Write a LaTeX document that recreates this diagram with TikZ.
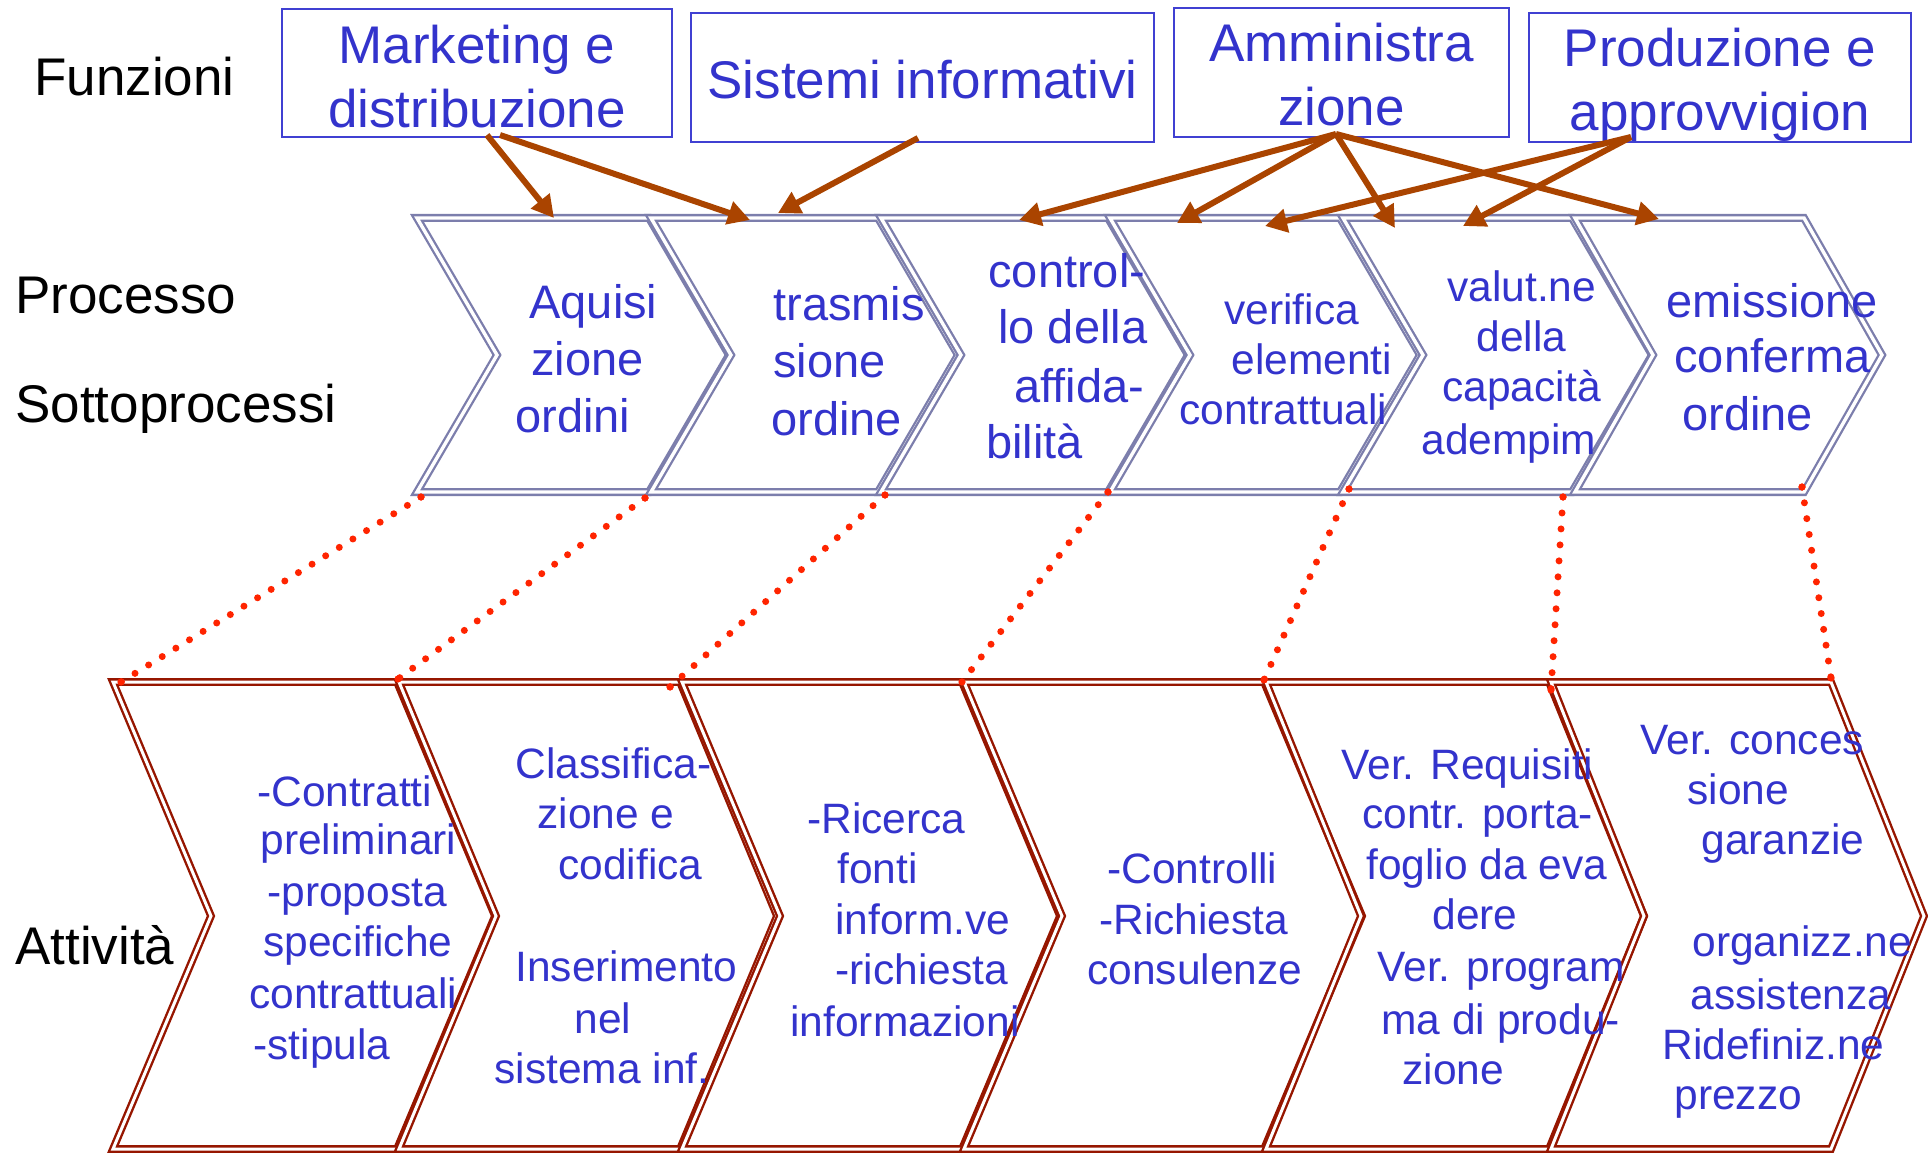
\documentclass[tikz,border=0pt]{standalone}
\usepackage{fontspec}
\setmainfont{Liberation Sans}
\usetikzlibrary{arrows.meta}
\definecolor{tblue}{RGB}{51,51,204}
\definecolor{bblue}{RGB}{64,64,210}
\definecolor{pgray}{RGB}{124,126,172}
\definecolor{ared}{RGB}{150,22,0}
\definecolor{abrown}{RGB}{170,68,0}
\definecolor{dred}{RGB}{255,36,0}
\begin{document}
\begin{tikzpicture}[x=0.5pt,y=-0.5pt,
  lbl/.style={inner sep=0pt, anchor=mid west, yshift=-3.5pt, font=\fontsize{26.5}{32}\selectfont, text=black},
  fbox/.style={draw=bblue, line width=0.8pt, inner sep=0pt},
  btxt/.style={inner sep=0pt, text=tblue, align=center, font=\fontsize{26.5}{32}\selectfont},
  pchev/.style={draw=pgray, line width=1.15pt, double=white, double distance=1.7pt, line join=miter},
  achev/.style={draw=ared, line width=1.2pt, double=white, double distance=1.5pt, line join=miter},
  ptxt/.style={inner sep=0pt, anchor=mid west, yshift=-3.5pt, text=tblue, font=\fontsize{23.5}{29}\selectfont},
  ptxs/.style={inner sep=0pt, anchor=mid west, yshift=-3.5pt, text=tblue, font=\fontsize{21.25}{25}\selectfont},
  atxt/.style={inner sep=0pt, anchor=mid west, yshift=-3.5pt, text=tblue, font=\fontsize{21.25}{25.5}\selectfont},
  farrow/.style={draw=abrown, line width=3pt, -{Triangle[length=11pt,width=11.5pt]}},
  dotline/.style={draw=dred, line width=3.5pt, line cap=round, dash pattern=on 0pt off 8pt},
  enddot/.style={fill=dred},
]
\useasboundingbox (0,0) rectangle (1928,1155);

% ---------- left labels
\node[lbl] (lfun) at (34,83) {Funzioni};
\node[lbl] (lpro) at (15,301) {Processo};
\node[lbl] (lsot) at (15,410) {Sottoprocessi};
\node[lbl] (latt) at (15,952) {Attività};

% ---------- function boxes
\node[fbox, minimum width=195pt, minimum height=64pt] (mk) at (477,73) {};
\node[fbox, minimum width=231.5pt, minimum height=64.5pt] (si) at (922.5,77.5) {};
\node[fbox, minimum width=167.5pt, minimum height=64.5pt] (am) at (1341.5,72.5) {};
\node[fbox, minimum width=191pt, minimum height=64.5pt] (pr) at (1720,77.5) {};
\node[btxt] (mkt) at (477,76.5) {Marketing e\\distribuzione};
\node[btxt] (sit) at (922.5,80) {Sistemi informativi};
\node[btxt] (amt) at (1341.5,75) {Amministra\\zione};
\node[btxt] (prt) at (1720,84.5) {Produzione e\\approvvigion};

% ---------- process chevrons
\foreach \a/\b/\e [count=\i] in {417/649/80, 651/878/80, 881/1108/80, 1110/1340/80, 1343/1572/80, 1575/1804/78}{
  \draw[pchev] (\a,218) -- (\b,218) -- (\b+\e,355) -- (\b,492) -- (\a,492) -- (\a+\e,355) -- cycle;
}

% ---------- activity chevrons
\foreach \a/\b/\e [count=\i] in {113/397/98, 399/680/97, 682/962/98, 964/1264/98, 1266/1549/95, 1551/1831/93}{
  \draw[achev] (\a,682) -- (\b,682) -- (\b+\e,916) -- (\b,1149) -- (\a,1149) -- (\a+\e,916) -- cycle;
}

% ---------- process texts
\node[ptxt] (p1a) at (529,306) {Aquisi};
\node[ptxt] (p1b) at (531,363) {zione};
\node[ptxt] (p1c) at (515,420) {ordini};

\node[ptxt] (p2a) at (773,308) {trasmis};
\node[ptxt] (p2b) at (773,365) {sione};
\node[ptxt] (p2c) at (771,423) {ordine};

\node[ptxt] (p3a) at (988,275) {control-};
\node[ptxt] (p3b) at (998,331) {lo della};
\node[ptxt] (p3c) at (1014,390) {affida-};
\node[ptxt] (p3d) at (986,446) {bilità};

\node[ptxs] (p4a) at (1224,312) {verifica};
\node[ptxs] (p4b) at (1231,362) {elementi};
\node[ptxs] (p4c) at (1179,412) {contrattuali};

\node[ptxs] (p5a) at (1447,289) {valut.ne};
\node[ptxs] (p5b) at (1476,339) {della};
\node[ptxs] (p5c) at (1442,389) {capacità};
\node[ptxs] (p5d) at (1421,442) {adempim};

\node[ptxt] (p6a) at (1666,305) {emissione};
\node[ptxt] (p6b) at (1674,360) {conferma};
\node[ptxt] (p6c) at (1682,418) {ordine};

% ---------- activity texts
\node[atxt] (a1a) at (257,794) {-Contratti};
\node[atxt] (a1b) at (260,842) {preliminari};
\node[atxt] (a1c) at (267,894) {-proposta};
\node[atxt] (a1d) at (263,944) {specifiche};
\node[atxt] (a1e) at (249,996) {contrattuali};
\node[atxt] (a1f) at (253,1047) {-stipula};

\node[atxt] (a2a) at (515,766) {Classifica-};
\node[atxt] (a2b) at (537,816) {zione e};
\node[atxt] (a2c) at (558,867) {codifica};
\node[atxt] (a2d) at (515,969) {Inserimento};
\node[atxt] (a2e) at (574,1021) {nel};
\node[atxt] (a2f) at (494,1071) {sistema inf.};

\node[atxt] (a3a) at (807,821) {-Ricerca};
\node[atxt] (a3b) at (837,871) {fonti};
\node[atxt] (a3c) at (835,922) {inform.ve};
\node[atxt] (a3d) at (835,972) {-richiesta};
\node[atxt] (a3e) at (790,1024) {informazioni};

\node[atxt] (a4a) at (1107,871) {-Controlli};
\node[atxt] (a4b) at (1099,922) {-Richiesta};
\node[atxt] (a4c) at (1087,972) {consulenze};

\node[atxt] (a5a) at (1341,767) {Ver. Requisiti};
\node[atxt] (a5b) at (1362,816) {contr. porta-};
\node[atxt] (a5c) at (1366,867) {foglio da eva};
\node[atxt] (a5d) at (1432,917) {dere};
\node[atxt] (a5e) at (1377,969) {Ver. program};
\node[atxt] (a5f) at (1381,1022) {ma di produ-};
\node[atxt] (a5g) at (1402,1072) {zione};

\node[atxt] (a6a) at (1640,742) {Ver. conces};
\node[atxt] (a6b) at (1687,792) {sione};
\node[atxt] (a6c) at (1701,842) {garanzie};
\node[atxt] (a6d) at (1692,944) {organizz.ne};
\node[atxt] (a6e) at (1690,997) {assistenza};
\node[atxt] (a6f) at (1662,1047) {Ridefiniz.ne};
\node[atxt] (a6g) at (1674,1097) {prezzo};

% ---------- dotted links (process -> activity)
\coordinate (pd1) at (421,497);  \coordinate (ad1) at (121,682);
\coordinate (pd2) at (645,498);  \coordinate (ad2) at (398,679);
\coordinate (pd3) at (885,495);  \coordinate (ad3) at (670,687);
\coordinate (pd4) at (1108,492); \coordinate (ad4) at (962,682);
\coordinate (pd5) at (1349,489); \coordinate (ad5) at (1264,680);
\coordinate (pd6) at (1563,497); \coordinate (ad6) at (1551,690);
\coordinate (pd7) at (1802,487); \coordinate (ad7) at (1831,678);
\foreach \k in {1,...,7}{
  \draw[dotline] (pd\k) -- (ad\k);
  \fill[enddot] (pd\k) circle (1.8pt);
  \fill[enddot] (ad\k) circle (1.8pt);
}

% ---------- function arrows
\coordinate (mkA) at (487,135);
\coordinate (mkB) at (500,135);
\coordinate (siC) at (918,138);
\coordinate (amO) at (1336,134);
\coordinate (prO) at (1631,137);
\coordinate (tA) at (554,218);
\coordinate (tB) at (750,220);
\coordinate (tC) at (778,213);
\coordinate (tD) at (1019,220);
\coordinate (tE) at (1177,223);
\coordinate (tF) at (1395,228);
\coordinate (tG) at (1659,219);
\coordinate (tH) at (1265,226);
\coordinate (tI) at (1463,226);
\draw[farrow] (mkA) -- (tA);
\draw[farrow] (mkB) -- (tB);
\draw[farrow] (siC) -- (tC);
\draw[farrow] (amO) -- (tD);
\draw[farrow] (amO) -- (tE);
\draw[farrow] (amO) -- (tF);
\draw[farrow] (amO) -- (tG);
\draw[farrow] (prO) -- (tH);
\draw[farrow] (prO) -- (tI);
\end{tikzpicture}
\end{document}
